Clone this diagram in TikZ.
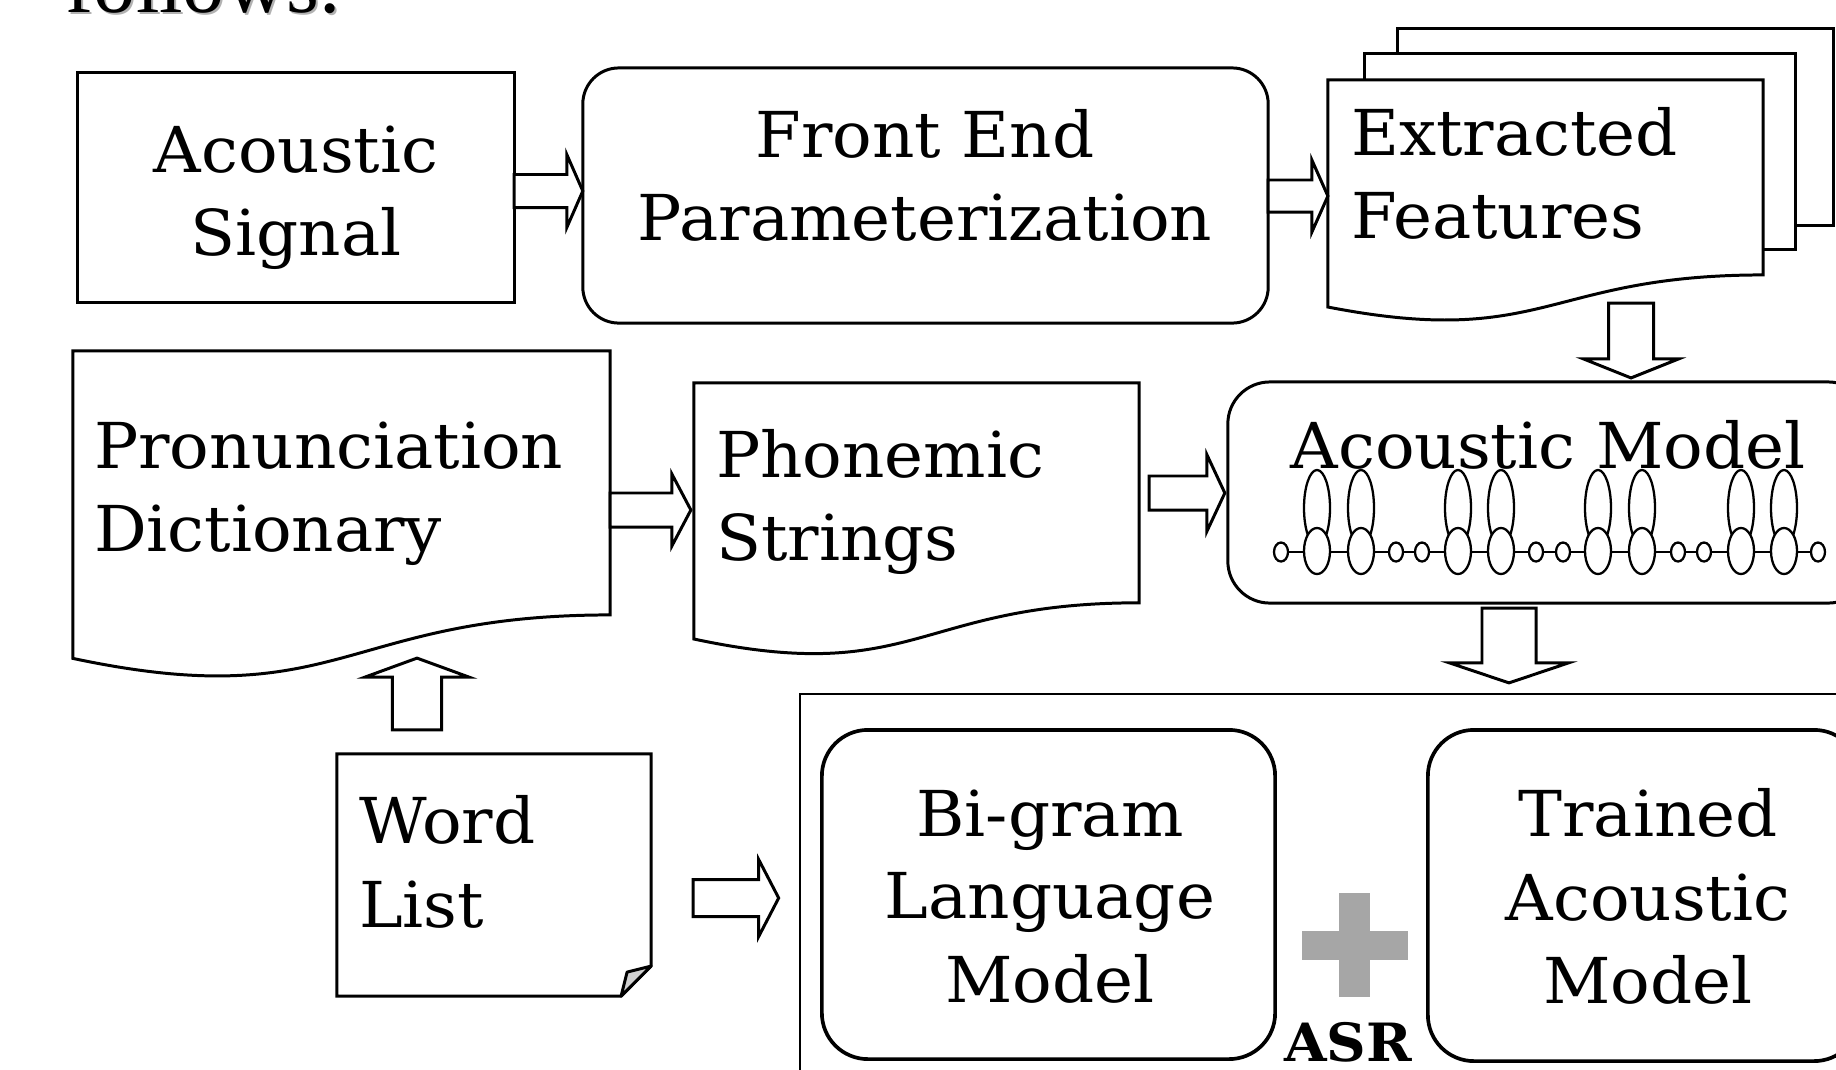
\documentclass[tikz,border=0pt]{standalone}
\usepackage{fontspec}
\setmainfont[FakeStretch=1.04]{DejaVu Serif}
\newfontfamily\bodyserif{Liberation Serif}
\usetikzlibrary{calc}

% hollow block arrow from #1 to #2: shaft half width #3, head half width #4, head length #5
\newcommand\blockarrow[5]{%
  \draw[arrowline] ($(#1)!#3!90:(#2)$) -- ($(#2)!#5!(#1)!#3!90:(#2)$)
    -- ($(#2)!#5!(#1)!#4!90:(#2)$) -- (#2)
    -- ($(#2)!#5!(#1)!#4!-90:(#2)$) -- ($(#2)!#5!(#1)!#3!-90:(#2)$)
    -- ($(#1)!#3!-90:(#2)$) -- cycle;}

% document outline (wavy bottom edge) around a frame node
\newcommand\docoutline[1]{%
  \draw[boxline, fill=white] (#1.north west) -- (#1.north east)
    -- ($(#1.north east)!0.802!(#1.south east)$)
    .. controls ($(#1.north)!0.802!(#1.south)$) and ($(#1.north)!1.1075!(#1.south)$)
    .. ($(#1.north west)!0.934!(#1.south west)$) -- cycle;}

\tikzset{
  boxline/.style={draw=black, line width=0.85pt},
  plainbox/.style={boxline, fill=white, rectangle, inner sep=0pt, outer sep=0pt},
  roundbox/.style={plainbox, rounded corners=#1},
  frame/.style={rectangle, inner sep=0pt, outer sep=0pt},
  arrowline/.style={draw=black, line width=0.85pt, fill=white, line join=miter},
  txt/.style={inner sep=0pt, outer sep=0pt, font=\fontsize{18}{22}\selectfont},
  hmm/.style={draw=black, line width=0.65pt, fill=white},
}

\begin{document}
\begin{tikzpicture}[x=0.01cm, y=-0.01cm]
\useasboundingbox (0,0) rectangle (1836,1069);
\fill[white] (0,0) rectangle (1836,1069);
\clip (0,0) rectangle (1836,1069);

% heading line of the surrounding text
\node[inner sep=0pt, anchor=base west, text=black!30, font=\bodyserif\fontsize{24}{28}\selectfont] (headshadow) at (67,14) {follows:};
\node[inner sep=0pt, anchor=base west, font=\bodyserif\fontsize{24}{28}\selectfont] (head) at (65,12) {follows:};

% ---- top row ----
\node[plainbox, minimum width=4.36cm, minimum height=2.29cm] (sig) at (296,187.5) {};
\node[txt, anchor=base] (sig1) at (296,172) {Acoustic};
\node[txt, anchor=base] (sig2) at (296,255) {Signal};

\node[roundbox=0.36cm, minimum width=6.85cm, minimum height=2.55cm] (fe) at (925.5,195.5) {};
\node[txt, anchor=base] (fe1) at (925,157) {Front End};
\node[txt, anchor=base] (fe2) at (925,240) {Parameterization};

\node[plainbox, minimum width=4.35cm, minimum height=1.96cm] (efc) at (1615.5,127) {};
\node[plainbox, minimum width=4.30cm, minimum height=1.95cm] (efb) at (1580,151.5) {};
\node[frame, minimum width=4.35cm, minimum height=2.43cm] (ef) at (1545.5,201.5) {};
\docoutline{ef}
\node[txt, anchor=base west] (ef1) at (1351,155) {Extracted};
\node[txt, anchor=base west] (ef2) at (1351,238) {Features};

% ---- middle row ----
\node[frame, minimum width=5.37cm, minimum height=3.29cm] (pd) at (341.5,515.5) {};
\docoutline{pd}
\node[txt, anchor=base west] (pd1) at (94,468) {Pronunciation};
\node[txt, anchor=base west] (pd2) at (94,551) {Dictionary};

\node[frame, minimum width=4.45cm, minimum height=2.74cm] (ps) at (916.5,520) {};
\docoutline{ps}
\node[txt, anchor=base west] (ps1) at (716,477) {Phonemic};
\node[txt, anchor=base west] (ps2) at (716,560) {Strings};

\node[roundbox=0.42cm, minimum width=6.42cm, minimum height=2.21cm] (am) at (1549,492.5) {};
% left-to-right HMM chain
\draw[line width=0.65pt] (1281,552) -- (1818,552);
\foreach \x in {1317,1361,1458,1501,1598,1642,1741,1784}{
  \draw[hmm] (\x,508) ellipse [x radius=0.13cm, y radius=0.38cm];
  \draw[hmm] (\x,551) ellipse [x radius=0.13cm, y radius=0.23cm];
}
\foreach \x in {1281,1396,1422,1536,1563,1678,1704,1818}{
  \draw[hmm] (\x,552) ellipse [x radius=0.07cm, y radius=0.095cm];
}
\node[txt, anchor=base] (am1) at (1548,468) {Acoustic Model};

% ---- bottom row ----
\node[boxline, rectangle, inner sep=0pt, outer sep=0pt, line width=0.65pt, minimum width=11cm, minimum height=4.06cm] (asrbox) at (1350,897) {};

\node[roundbox=0.46cm, line width=1.05pt, minimum width=4.53cm, minimum height=3.29cm] (bg) at (1048.5,894.5) {};
\node[txt, anchor=base] (bg1) at (1050,836) {Bi-gram};
\node[txt, anchor=base] (bg2) at (1050,918) {Language};
\node[txt, anchor=base] (bg3) at (1050,1002) {Model};

\node[roundbox=0.46cm, line width=1.05pt, minimum width=4.32cm, minimum height=3.31cm] (tam) at (1644,895.5) {};
\node[txt, anchor=base] (tam1) at (1648,836) {Trained};
\node[txt, anchor=base] (tam2) at (1648,920) {Acoustic};
\node[txt, anchor=base] (tam3) at (1648,1003) {Model};

% plus sign and system label
\fill[black!35] (1339,893) rectangle (1370,997);
\fill[black!35] (1302,931) rectangle (1408,960);
\node[inner sep=0pt, anchor=base, font=\fontsize{15}{18}\selectfont\bfseries] (asr) at (1348,1061) {ASR};

% word list sheet with folded corner
\node[frame, minimum width=3.14cm, minimum height=2.42cm] (wl) at (494,875) {};
\draw[boxline, fill=white] (wl.north west) -- (wl.north east) -- ($(wl.north east)+(0,212)$)
  -- ($(wl.south east)+(-30,0)$) -- (wl.south west) -- cycle;
\draw[boxline, fill=black!18, line join=round] ($(wl.south east)+(-30,0)$) -- ($(wl.south east)+(-24,-24)$) -- ($(wl.south east)+(0,-30)$) -- cycle;
\node[txt, anchor=base west] (wl1) at (359,843) {Word};
\node[txt, anchor=base west] (wl2) at (359,927) {List};

% ---- block arrows ----
\coordinate (a1s) at ($(sig.east)+(0,3.5)$);
\coordinate (a1t) at ($(fe.west)+(0,-4.5)$);
\coordinate (a2s) at ($(fe.east)+(0,0.5)$);
\coordinate (a2t) at ($(ef.west)+(0,-5.5)$);
\coordinate (a3s) at ($(ef.south)+(85.5,-20)$);
\coordinate (a3t) at ($(am.north)+(82,-4)$);
\coordinate (a4s) at ($(pd.east)+(0,-5.5)$);
\coordinate (a4t) at ($(ps.west)+(-3,-10)$);
\coordinate (a5s) at ($(ps.east)+(10,-27)$);
\coordinate (a5t) at ($(am.west)+(-3,0.5)$);
\coordinate (a6s) at ($(am.south)+(-40,5)$);
\coordinate (a6t) at ($(asrbox.north)+(159,-11)$);
\coordinate (a7s) at ($(wl.north)+(-77,-24)$);
\coordinate (a7t) at ($(pd.south)+(75.5,-22)$);
\coordinate (a8s) at ($(wl.east)+(42,23)$);
\coordinate (a8t) at ($(asrbox.west)+(-21,1)$);

\blockarrow{a1s}{a1t}{0.165cm}{0.365cm}{0.16cm}
\blockarrow{a2s}{a2t}{0.16cm}{0.36cm}{0.16cm}
\blockarrow{a3s}{a3t}{0.225cm}{0.475cm}{0.19cm}
\blockarrow{a4s}{a4t}{0.17cm}{0.36cm}{0.19cm}
\blockarrow{a5s}{a5t}{0.17cm}{0.385cm}{0.18cm}
\blockarrow{a6s}{a6t}{0.27cm}{0.595cm}{0.20cm}
\blockarrow{a7s}{a7t}{0.245cm}{0.52cm}{0.19cm}
\blockarrow{a8s}{a8t}{0.185cm}{0.385cm}{0.20cm}
\end{tikzpicture}
\end{document}
